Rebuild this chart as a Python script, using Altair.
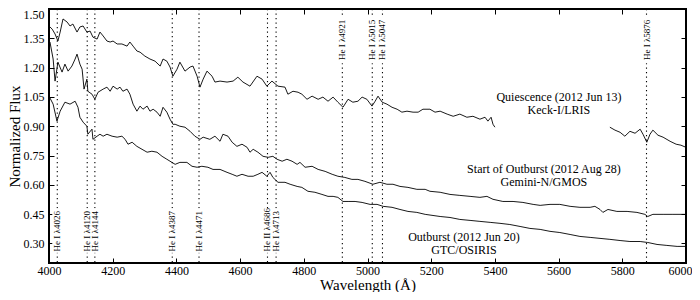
import altair as alt
import pandas as pd

# ---------------- data ----------------
quiescence_a = [
    (4000, 1.413), (4010, 1.397), (4019, 1.372), (4028, 1.336), (4035, 1.382), (4044, 1.449),
    (4057, 1.433), (4066, 1.413), (4075, 1.423), (4088, 1.382), (4097, 1.408), (4107, 1.413),
    (4119, 1.382), (4129, 1.387), (4138, 1.356), (4151, 1.346), (4160, 1.382), (4170, 1.362),
    (4182, 1.336), (4192, 1.331), (4201, 1.336), (4214, 1.321), (4229, 1.321), (4245, 1.310),
    (4254, 1.331), (4264, 1.310), (4276, 1.285), (4286, 1.279), (4301, 1.259), (4317, 1.244),
    (4333, 1.233), (4349, 1.208), (4358, 1.244), (4370, 1.233), (4380, 1.203), (4389, 1.156),
    (4402, 1.192), (4411, 1.228), (4427, 1.182), (4443, 1.203), (4452, 1.208), (4465, 1.156),
    (4474, 1.100), (4484, 1.141), (4496, 1.182), (4512, 1.156), (4521, 1.126), (4537, 1.131),
    (4559, 1.126), (4578, 1.131), (4593, 1.151), (4609, 1.126), (4631, 1.105), (4653, 1.156),
    (4669, 1.141), (4684, 1.105), (4700, 1.131), (4719, 1.105), (4741, 1.100), (4750, 1.064),
    (4766, 1.079), (4782, 1.074), (4794, 1.064), (4810, 1.038), (4826, 1.054), (4845, 1.038),
    (4860, 1.049), (4876, 1.028), (4892, 1.049), (4907, 1.023), (4923, 0.997), (4939, 1.038),
    (4954, 1.023), (4970, 1.028), (4983, 1.049), (4998, 1.038), (5014, 1.003), (5024, 1.028),
    (5033, 1.054), (5046, 1.023), (5061, 1.013), (5077, 0.997), (5093, 0.987), (5108, 0.972),
    (5124, 0.977), (5143, 0.972), (5159, 0.972), (5174, 0.987), (5196, 0.987), (5212, 0.972),
    (5228, 0.977), (5250, 0.962), (5269, 0.951), (5290, 0.962), (5312, 0.946), (5331, 0.951),
    (5353, 0.936), (5369, 0.946), (5378, 0.926), (5388, 0.946), (5394, 0.910), (5400, 0.895),
]
quiescence_b = [
    (5761, 0.895), (5777, 0.880), (5793, 0.869), (5808, 0.849), (5824, 0.874), (5840, 0.864),
    (5856, 0.885), (5865, 0.859), (5877, 0.818), (5887, 0.859), (5896, 0.880), (5912, 0.854),
    (5928, 0.844), (5950, 0.823), (5969, 0.808), (5984, 0.803), (6000, 0.792),
]
start_outburst = [
    (4003, 1.331), (4013, 1.244), (4019, 1.131), (4028, 1.228), (4041, 1.177), (4050, 1.218),
    (4060, 1.182), (4072, 1.208), (4082, 1.244), (4088, 1.269), (4097, 1.218), (4104, 1.192),
    (4110, 1.090), (4119, 1.141), (4122, 1.079), (4135, 1.064), (4144, 1.038), (4154, 1.074),
    (4170, 1.090), (4182, 1.100), (4192, 1.079), (4201, 1.105), (4214, 1.090), (4223, 1.100),
    (4232, 1.079), (4245, 1.090), (4254, 1.064), (4264, 1.013), (4276, 0.977), (4286, 1.003),
    (4295, 0.987), (4308, 1.003), (4317, 0.977), (4327, 0.987), (4339, 0.972), (4349, 0.951),
    (4358, 0.997), (4370, 0.972), (4380, 0.936), (4389, 0.910), (4396, 0.910), (4411, 0.900),
    (4427, 0.895), (4443, 0.874), (4458, 0.849), (4474, 0.833), (4484, 0.844), (4505, 0.833),
    (4521, 0.849), (4537, 0.823), (4546, 0.859), (4562, 0.849), (4575, 0.818), (4590, 0.797),
    (4606, 0.808), (4622, 0.792), (4631, 0.767), (4641, 0.782), (4656, 0.767), (4672, 0.746),
    (4688, 0.741), (4703, 0.746), (4716, 0.731), (4732, 0.721), (4747, 0.731), (4763, 0.721),
    (4779, 0.705), (4788, 0.715), (4804, 0.690), (4826, 0.695), (4845, 0.679), (4867, 0.669),
    (4889, 0.654), (4907, 0.644), (4929, 0.638), (4951, 0.628), (4970, 0.628), (4992, 0.618),
    (5017, 0.603), (5039, 0.613), (5061, 0.603), (5080, 0.603), (5102, 0.592), (5127, 0.587),
    (5155, 0.577), (5181, 0.577), (5196, 0.567), (5228, 0.562), (5259, 0.551), (5290, 0.546),
    (5322, 0.541), (5353, 0.536), (5375, 0.541), (5394, 0.526), (5425, 0.515), (5457, 0.515),
    (5488, 0.510), (5520, 0.500), (5542, 0.495), (5573, 0.500), (5604, 0.500), (5636, 0.490),
    (5667, 0.485), (5699, 0.485), (5714, 0.490), (5730, 0.474), (5739, 0.459), (5755, 0.474),
    (5783, 0.464), (5815, 0.464), (5846, 0.459), (5871, 0.449), (5880, 0.438), (5896, 0.449),
    (5928, 0.449), (5959, 0.449), (6000, 0.449),
]
outburst = [
    (4000, 1.054), (4013, 1.013), (4025, 0.926), (4035, 0.977), (4050, 1.023), (4066, 1.013),
    (4082, 1.028), (4091, 0.997), (4097, 0.946), (4107, 0.921), (4119, 0.900), (4122, 0.859),
    (4135, 0.885), (4138, 0.833), (4151, 0.849), (4160, 0.859), (4170, 0.849), (4182, 0.859),
    (4198, 0.849), (4214, 0.844), (4229, 0.849), (4239, 0.833), (4248, 0.808), (4261, 0.818),
    (4276, 0.797), (4292, 0.782), (4308, 0.767), (4323, 0.772), (4339, 0.767), (4355, 0.746),
    (4370, 0.731), (4380, 0.721), (4396, 0.705), (4411, 0.715), (4433, 0.715), (4449, 0.695),
    (4465, 0.690), (4480, 0.695), (4499, 0.690), (4515, 0.679), (4537, 0.679), (4559, 0.664),
    (4575, 0.654), (4590, 0.644), (4606, 0.654), (4625, 0.644), (4641, 0.644), (4656, 0.654),
    (4669, 0.664), (4684, 0.644), (4694, 0.664), (4703, 0.638), (4719, 0.613), (4741, 0.613),
    (4757, 0.603), (4779, 0.592), (4794, 0.587), (4813, 0.567), (4835, 0.562), (4857, 0.551),
    (4876, 0.541), (4892, 0.541), (4907, 0.536), (4923, 0.515), (4939, 0.515), (4961, 0.515),
    (4983, 0.510), (5008, 0.500), (5030, 0.500), (5049, 0.490), (5077, 0.485), (5102, 0.474),
    (5127, 0.464), (5155, 0.459), (5181, 0.449), (5228, 0.438), (5259, 0.433), (5290, 0.423),
    (5322, 0.418), (5353, 0.413), (5385, 0.408), (5416, 0.403), (5447, 0.397), (5479, 0.387),
    (5510, 0.377), (5542, 0.372), (5573, 0.362), (5604, 0.356), (5636, 0.346), (5667, 0.336),
    (5699, 0.331), (5730, 0.326), (5761, 0.321), (5793, 0.315), (5824, 0.310), (5856, 0.310),
    (5880, 0.305), (5909, 0.295), (5940, 0.290), (5972, 0.285), (6000, 0.285),
]

line_wl = [4026, 4120, 4144, 4387, 4471, 4686, 4713, 4921, 5015, 5047, 5876]
line_names = ["He I λ4026", "He I λ4120", "He I λ4144", "He I λ4387", "He I λ4471",
              "He II λ4686", "He I λ4713", "He I λ4921", "He I λ5015", "He I λ5047",
              "He I λ5876"]
line_group = ["low"] * 7 + ["high"] * 4

ann_text = ["Quiescence (2012 Jun 13)", "Keck-I/LRIS",
            "Start of Outburst (2012 Aug 28)", "Gemini-N/GMOS",
            "Outburst (2012 Jun 20)", "GTC/OSIRIS"]
ann_wl = [5601, 5601, 5554, 5554, 5303, 5303]
ann_flux = [1.051, 0.985, 0.682, 0.615, 0.334, 0.267]

x_ticks = [4000, 4200, 4400, 4600, 4800, 5000, 5200, 5400, 5600, 5800, 6000]
x_labels_mid = [4000, 4200, 4400, 4600, 4800, 5000, 5200, 5400, 5600, 5800]
x_labels_end = [6000]
y_ticks = [0.30, 0.45, 0.60, 0.75, 0.90, 1.05, 1.20, 1.35, 1.50]

# ---------------- tables ----------------
def seg(pairs, name):
    return pd.DataFrame({"wl": [p[0] for p in pairs], "flux": [p[1] for p in pairs], "seg": name})

spec = pd.concat([seg(quiescence_a, "q1"), seg(quiescence_b, "q2"),
                  seg(start_outburst, "s"), seg(outburst, "o")], ignore_index=True)

lines = pd.DataFrame({"wl": line_wl, "name": line_names, "grp": line_group})
lines["y1"] = [0.252 if g == "low" else 1.222 for g in line_group]
lines["y2"] = [0.480 if g == "low" else 1.455 for g in line_group]
lines["ty"] = [0.259 if g == "low" else 1.445 for g in line_group]

ann = pd.DataFrame({"t": ann_text, "wl": ann_wl, "flux": ann_flux})

FONT = "Liberation Serif"
xs = alt.Scale(domain=[4000, 6000], nice=False, zero=False)
ys = alt.Scale(domain=[0.2, 1.5], nice=False, zero=False)


def tick_axis(orient, values):
    return alt.Axis(orient=orient, values=values, offset=-5, ticks=True, tickSize=5,
                    tickColor="black", tickWidth=1, labels=False, domain=False,
                    grid=False, title=None)


x_main = alt.Axis(orient="bottom", values=x_labels_mid, format="d", ticks=False, domain=False,
                  grid=False, labelFlush=False,
                  labelFont=FONT, labelFontSize=12, labelColor="black", labelPadding=2,
                  title="Wavelength (Å)", titleFont=FONT, titleFontSize=15,
                  titleFontWeight="normal", titleColor="black", titlePadding=1)
x_end = alt.Axis(orient="bottom", values=x_labels_end, format="d", ticks=False, domain=False,
                 grid=False, labelFlush=True, labelFlushOffset=6,
                 labelFont=FONT, labelFontSize=12, labelColor="black", labelPadding=2,
                 title=None)
y_main = alt.Axis(orient="left", values=y_ticks, format=".2f", ticks=False, domain=False,
                  grid=False, labelFlush=True, labelFlushOffset=0,
                  labelFont=FONT, labelFontSize=12, labelColor="black",
                  labelPadding=5, title="Normalized Flux", titleFont=FONT, titleFontSize=15,
                  titleFontWeight="normal", titleColor="black", titlePadding=1)

spectra = alt.Chart(spec).mark_line(color="black", strokeWidth=0.9).encode(
    x=alt.X("wl:Q", scale=xs, axis=x_main),
    y=alt.Y("flux:Q", scale=ys, axis=y_main),
    detail="seg:N",
)

dotted = alt.Chart(lines).mark_rule(color="black", strokeWidth=1.1, strokeDash=[1.2, 3.3]).encode(
    x=alt.X("wl:Q", scale=xs, axis=tick_axis("bottom", x_ticks)),
)

blank = alt.Chart(lines).mark_rule(color="white", strokeWidth=10).encode(
    x=alt.X("wl:Q", scale=xs, axis=tick_axis("top", x_ticks)),
    y=alt.Y("y1:Q", scale=ys, axis=tick_axis("right", y_ticks)),
    y2="y2:Q",
)

labels_low = alt.Chart(lines[lines.grp == "low"]).mark_text(
    angle=270, align="left", baseline="middle", font=FONT, fontSize=9, color="black"
).encode(
    x=alt.X("wl:Q", scale=xs, axis=None),
    y=alt.Y("ty:Q", scale=ys, axis=tick_axis("left", y_ticks)),
    text="name:N",
)

labels_high = alt.Chart(lines[lines.grp == "high"]).mark_text(
    angle=270, align="right", baseline="middle", font=FONT, fontSize=9, color="black"
).encode(
    x=alt.X("wl:Q", scale=xs, axis=x_end),
    y=alt.Y("ty:Q", scale=ys, axis=None),
    text="name:N",
)

annot = alt.Chart(ann).mark_text(
    align="center", baseline="middle", font=FONT, fontSize=12, color="black"
).encode(
    x=alt.X("wl:Q", scale=xs, axis=None),
    y=alt.Y("flux:Q", scale=ys, axis=None),
    text="t:N",
)

chart = alt.layer(spectra, dotted, blank, labels_low, labels_high, annot).resolve_axis(
    x="independent", y="independent"
).properties(
    width=637, height=254,
    autosize=alt.AutoSizeParams(type="none"),
    padding={"left": 41, "top": 1, "right": 6, "bottom": 29},
).configure_view(stroke="black", strokeWidth=2)

chart.save("out.html", embed_options={"renderer": "svg", "actions": False})
